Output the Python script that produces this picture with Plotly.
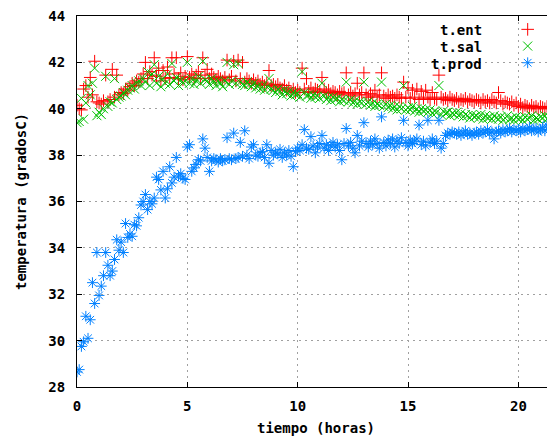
import plotly.graph_objects as go

# sampling grid (hours), one sample every 0.1 h
tiempo = [round(0.1 * i, 1) for i in range(217)]

t_ent = [
    40.15, 40.0, 39.95, 40.85, 41.0, 40.5, 41.35, 40.6, 42.05, 40.3,
    40.25, 40.2, 40.35, 41.45, 40.3, 40.4, 41.7, 40.5, 41.45, 40.6,
    40.7, 40.65, 40.85, 40.8, 40.95, 41.1, 41.0, 41.2, 41.15, 41.3,
    41.5, 42.0, 41.3, 41.6, 41.45, 42.2, 41.4, 41.75, 41.2, 41.65,
    41.3, 41.8, 41.35, 42.2, 41.5, 42.2, 41.3, 41.55, 41.25, 41.4,
    42.25, 41.35, 41.5, 41.3, 41.45, 41.6, 41.3, 42.2, 41.45, 41.7,
    41.3, 41.5, 41.35, 41.25, 41.4, 41.3, 41.2, 41.35, 42.1, 41.25,
    41.4, 42.05, 41.2, 42.1, 41.3, 42.0, 41.15, 41.3, 41.2, 41.1,
    41.25, 41.1, 41.2, 41.05, 41.15, 41.0, 41.1, 41.65, 41.0, 41.05,
    40.95, 41.05, 40.9, 40.85, 41.0, 40.8, 40.9, 40.75, 40.85, 40.7,
    40.8, 40.7, 41.75, 40.85, 41.3, 40.75, 40.9, 40.7, 40.85, 40.8,
    40.75, 41.35, 40.85, 40.7, 40.8, 40.65, 40.75, 40.7, 40.6, 40.75,
    40.65, 40.7, 41.55, 40.6, 40.7, 40.55, 40.65, 41.1, 40.6, 40.7,
    41.55, 40.6, 40.5, 40.65, 40.55, 40.8, 40.5, 40.6, 41.55, 40.55,
    40.45, 40.6, 40.5, 40.55, 40.45, 40.6, 40.5, 40.45, 41.15, 40.5,
    40.9, 40.45, 40.8, 40.5, 40.85, 40.4, 40.75, 40.45, 40.8, 40.5,
    40.4, 40.7, 40.45, 40.4, 41.45, 40.5, 40.4, 40.45, 40.35, 40.5,
    40.4, 40.35, 40.45, 40.3, 40.4, 40.35, 40.45, 40.3, 40.4, 40.35,
    40.3, 40.4, 40.35, 40.25, 40.4, 40.3, 40.35, 40.25, 40.4, 40.3,
    40.25, 40.7, 40.35, 40.2, 40.3, 40.25, 40.2, 40.3, 40.15, 40.25,
    40.1, 40.2, 40.05, 40.15, 40.1, 40.0, 40.15, 40.05, 40.1, 40.0,
    40.1, 40.05, 40.0, 40.1, 40.05, 40.0, 40.1,
]

t_sal = [
    39.4, 39.45, 40.45, 39.55, 40.25, 41.0, 40.6, 41.1, 41.75, 39.7,
    39.85, 39.75, 40.0, 41.4, 40.1, 40.3, 40.25, 41.3, 40.4, 40.5,
    40.55, 40.7, 40.6, 40.8, 40.9, 41.0, 40.85, 41.1, 41.2, 41.0,
    41.3, 41.15, 41.6, 41.0, 41.5, 41.9, 41.1, 41.4, 40.95, 41.3,
    41.1, 41.5, 41.05, 41.95, 41.2, 41.35, 41.0, 41.25, 41.1, 41.2,
    42.0, 41.1, 41.3, 41.05, 41.2, 41.4, 41.1, 42.05, 41.25, 41.2,
    41.05, 41.3, 41.15, 41.0, 41.2, 41.1, 40.95, 41.2, 42.0, 41.05,
    41.2, 41.9, 41.1, 41.95, 41.15, 41.05, 41.0, 41.15, 41.05, 40.95,
    41.1, 40.9, 41.0, 40.85, 40.95, 40.8, 40.95, 41.3, 40.85, 40.8,
    40.7, 40.85, 40.75, 40.6, 40.8, 40.65, 40.75, 40.55, 40.7, 40.6,
    40.65, 40.5, 41.6, 40.7, 40.55, 40.6, 40.45, 40.6, 40.5, 40.55,
    40.45, 41.1, 40.55, 40.4, 40.5, 40.35, 40.5, 40.4, 40.45, 40.3,
    40.4, 40.35, 41.15, 40.3, 40.4, 40.25, 40.35, 40.2, 40.3, 40.25,
    41.15, 40.2, 40.3, 40.15, 40.25, 40.1, 40.2, 40.15, 41.15, 40.1,
    40.2, 40.05, 40.15, 40.0, 40.1, 39.95, 40.1, 40.0, 41.0, 39.95,
    40.05, 39.95, 40.1, 39.9, 40.0, 39.85, 40.0, 39.9, 39.95, 39.85,
    39.95, 39.8, 39.9, 39.85, 41.0, 39.75, 39.9, 39.8, 39.85, 39.7,
    39.8, 39.75, 39.85, 39.7, 39.8, 39.65, 39.75, 39.7, 39.6, 39.75,
    39.65, 39.7, 39.6, 39.75, 39.55, 39.7, 39.6, 39.65, 39.55, 39.7,
    39.6, 39.55, 39.65, 39.5, 39.6, 39.7, 39.55, 39.6, 39.5, 39.65,
    39.55, 39.6, 39.5, 39.65, 39.55, 39.6, 39.7, 39.5, 39.6, 39.55,
    39.65, 39.6, 39.7, 39.55, 39.65, 39.6, 39.7,
]

t_prod = [
    28.65, 28.75, 29.75, 29.95, 31.05, 30.1, 30.9, 32.5, 31.6, 33.8,
    31.95, 32.35, 32.8, 33.8, 33.25, 32.8, 33.0, 33.5, 34.35, 33.9,
    34.25, 33.8, 35.05, 34.45, 34.6, 34.5, 35.0, 34.95, 35.3, 35.85,
    36.0, 36.3, 35.65, 36.0, 35.9, 36.15, 37.05, 36.95, 36.5, 37.3,
    36.15, 36.55, 37.5, 36.8, 37.05, 37.9, 37.1, 37.2, 37.0, 36.95,
    38.35, 38.45, 37.3, 37.45, 37.6, 37.8, 37.75, 38.7, 38.3, 37.9,
    37.3, 37.75, 37.85, 37.8, 37.7, 37.85, 37.75, 37.8, 38.75, 37.85,
    37.8, 38.95, 37.85, 37.9, 38.55, 37.95, 39.05, 38.0, 37.85, 38.35,
    38.45, 38.0, 37.95, 38.1, 38.15, 37.9, 38.45, 37.65, 38.2, 38.0,
    38.1, 38.05, 38.25, 37.9, 38.1, 38.0, 38.2, 37.95, 37.5, 38.15,
    38.3, 38.2, 38.45, 39.1, 38.3, 38.25, 38.8, 38.4, 38.1, 38.35,
    38.5, 38.85, 38.3, 38.45, 38.2, 38.4, 38.55, 38.35, 38.45, 38.2,
    37.8, 38.5, 39.15, 38.4, 38.55, 38.3, 38.1, 38.85, 38.4, 38.6,
    39.4, 38.5, 38.35, 38.6, 38.45, 38.7, 38.5, 38.3, 39.65, 38.55,
    38.4, 38.65, 38.5, 38.7, 38.35, 38.6, 38.5, 38.75, 39.5, 38.55,
    38.4, 38.65, 38.5, 38.6, 38.7, 39.3, 38.45, 38.6, 38.4, 39.5,
    38.55, 38.7, 38.5, 38.6, 39.5, 38.3, 38.5, 38.85, 38.95, 38.9,
    39.0, 38.95, 38.9, 39.0, 38.85, 38.95, 39.05, 38.9, 38.95, 38.85,
    38.95, 39.0, 38.9, 39.05, 38.95, 39.0, 39.1, 38.95, 39.0, 38.7,
    39.0, 39.05, 38.95, 39.1, 39.0, 39.05, 39.15, 39.0, 39.1, 39.05,
    39.1, 39.0, 39.15, 39.05, 39.1, 39.2, 39.05, 39.1, 39.15, 39.0,
    39.1, 39.2, 39.05, 39.3, 39.1, 39.15, 39.1,
]

series_names = ["t.ent", "t.sal", "t.prod"]
x_ticks = [0, 5, 10, 15, 20]
y_ticks = [28, 30, 32, 34, 36, 38, 40, 42, 44]

colors = ["#ff0000", "#00c000", "#0080ff"]
symbols = ["cross-thin-open", "x-thin-open", "asterisk-open"]
FONT = "DejaVu Sans Mono"

fig = go.Figure()
for name, vals, col, sym in zip(series_names, [t_ent, t_sal, t_prod], colors, symbols):
    fig.add_trace(go.Scatter(
        x=tiempo, y=vals, mode="markers", name=name, showlegend=False,
        marker=dict(symbol=sym, size=9, color=col, line=dict(color=col, width=1)),
    ))

# legend keys: one single-entry legend per series, text drawn as annotations to the left
text_rows = [0.962, 0.916, 0.871]
key_rows = [0.964, 0.919, 0.874]
for i, (name, col, sym) in enumerate(zip(series_names, colors, symbols)):
    lg = "legend" if i == 0 else f"legend{i+1}"
    fig.add_trace(go.Scatter(
        x=[None], y=[None], mode="markers", name="", legend=lg, showlegend=True,
        marker=dict(symbol=sym, size=9, color=col, line=dict(color=col, width=1)),
    ))
    fig.add_annotation(
        text=name, xref="paper", yref="paper", x=0.851, y=text_rows[i],
        xanchor="right", yanchor="middle", showarrow=False,
        font=dict(family=FONT, size=14, color="black", weight="bold"),
    )

# key area blanks the grid (but not the data) behind the lower legend rows
fig.add_shape(type="rect", xref="paper", yref="paper", x0=0.738, x1=1.0,
              y0=0.854, y1=0.941, fillcolor="white", line=dict(width=0),
              layer="between")

legend_common = dict(xanchor="left", yanchor="middle", bgcolor="rgba(0,0,0,0)",
                     borderwidth=0, font=dict(size=10), itemwidth=30)
layout_legends = {}
for i in range(3):
    key = "legend" if i == 0 else f"legend{i+1}"
    layout_legends[key] = dict(x=0.901, y=key_rows[i], **legend_common)

# the page body adds an 8px offset; margins compensate so the plot area
# sits at x 77..555, y 16..387 in the 555x437 window
fig.update_layout(
    width=547, height=429,
    margin=dict(l=69, r=0, t=8, b=50, autoexpand=False),
    paper_bgcolor="white", plot_bgcolor="white",
    font=dict(family=FONT, size=14, color="black"),
    **layout_legends,
)

axis_common = dict(
    showline=True, linecolor="black", linewidth=1,
    ticks="inside", ticklen=5, tickcolor="black", tickwidth=1,
    showgrid=True, gridcolor="#a0a0a0", gridwidth=1, griddash="2px,4px",
    zeroline=False, automargin=False, ticklabeloverflow="allow",
    tickfont=dict(family=FONT, size=14, color="black", weight="bold"),
)
fig.update_xaxes(
    range=[0, 21.66], tickvals=x_ticks, mirror="ticks",
    title=dict(text="tiempo (horas)", standoff=10,
               font=dict(family=FONT, size=14, color="black", weight="bold")),
    ticklabelstandoff=6,
    **axis_common,
)
fig.update_yaxes(
    range=[28, 44], tickvals=y_ticks, mirror=False,
    title=dict(text="temperatura (gradosC)", standoff=18,
               font=dict(family=FONT, size=14, color="black", weight="bold")),
    ticklabelstandoff=8,
    **axis_common,
)

fig.write_html("out.html")
